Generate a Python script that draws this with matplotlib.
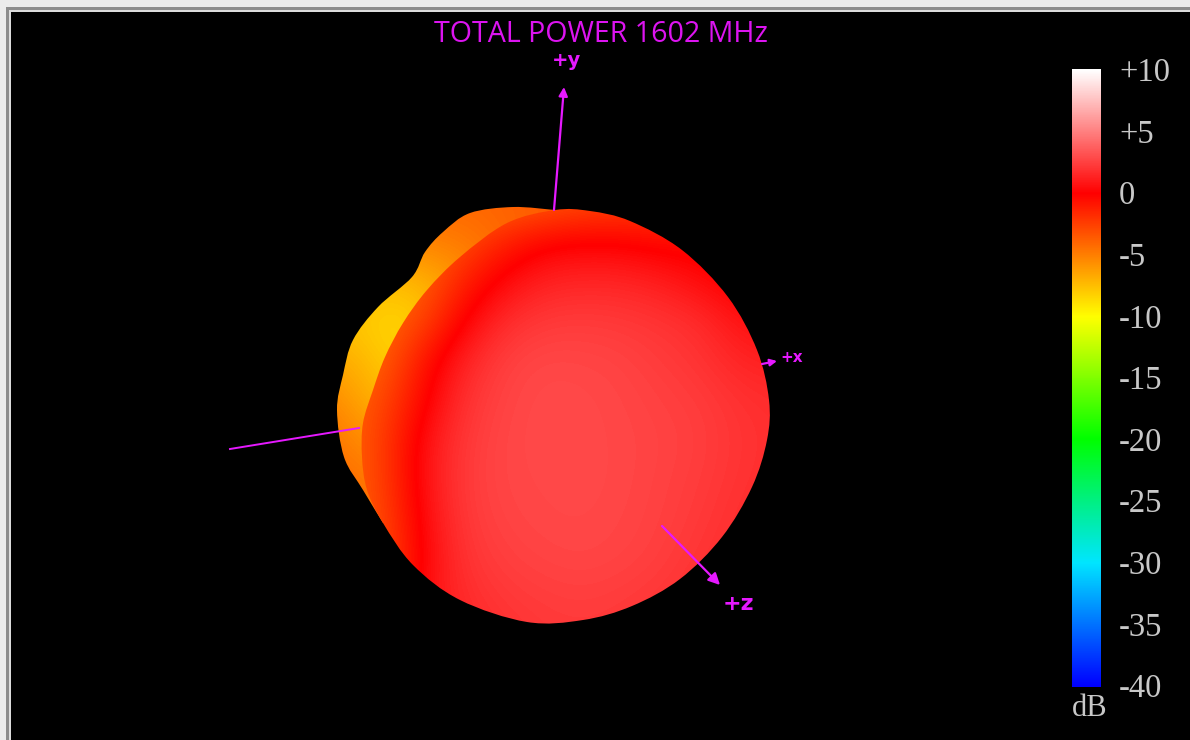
import numpy as np
import matplotlib
matplotlib.use("Agg")
import matplotlib.pyplot as plt
from matplotlib.colors import LinearSegmentedColormap, Normalize
from matplotlib.patches import PathPatch, Rectangle
from matplotlib.path import Path

title = "TOTAL POWER 1602 MHz"
db_min, db_max = -40, 10
tick_labels = ["+10", "+5", "0", "-5", "-10", "-15", "-20", "-25", "-30", "-35", "-40"]
tick_values = [10, 5, 0, -5, -10, -15, -20, -25, -30, -35, -40]

# colour scale
scale_db = [-40, -30, -25, -20, -10, 0, 10]
scale_colors = ["#0000ff", "#00e6ff", "#00f082", "#00ff00", "#ffff00", "#ff0000", "#ffffff"]

# silhouettes in screen pixels
back_x = [555, 513, 470, 443, 425, 412, 378, 353, 343, 337, 344, 363, 383]
back_y = [210, 207, 213, 232, 252, 277, 307, 340, 375, 410, 457, 490, 523]
front_x = [555, 507, 460, 427, 403, 385, 373, 363, 362, 367, 383, 413, 460, 527,
           583, 632, 680, 722, 752, 767, 769, 757, 728, 682, 630, 590]
front_y = [210, 223, 257, 290, 323, 357, 390, 423, 457, 490, 523, 565, 600, 622,
           620, 606, 579, 537, 487, 440, 400, 350, 297, 250, 221, 211]

# power in dB sampled on the front lobe
front_cols = [340, 380, 420, 460, 500, 540, 580, 620, 660, 700, 740, 780]
front_rows = [200, 240, 280, 320, 360, 400, 440, 480, 520, 560, 600, 640]
front_db = [
    [-4.0, -4.0, -4.0, -4.0, -4.0, -3.8, -3.2, -2.8, -2.4, -2.0, -1.5, -1.5],
    [-4.0, -4.0, -4.0, -3.0, -1.5, -0.3, 0.0, -0.1, -0.5, -0.5, -1.0, -1.5],
    [-4.0, -4.0, -3.8, -1.5, 0.2, 1.2, 1.4, 1.4, 1.1, 0.4, -0.3, -0.5],
    [-4.0, -4.0, -3.0, -0.2, 1.6, 2.2, 2.3, 2.2, 2.0, 1.7, 0.7, 0.3],
    [-4.0, -4.0, -1.0, 1.2, 2.4, 2.75, 2.7, 2.6, 2.3, 2.0, 1.4, 1.2],
    [-4.0, -3.0, -0.5, 1.8, 2.6, 2.85, 2.85, 2.7, 2.5, 2.3, 1.9, 1.7],
    [-4.0, -2.6, 0.4, 2.1, 2.7, 2.85, 2.85, 2.75, 2.6, 2.4, 2.0, 1.8],
    [-4.0, -2.7, 0.5, 2.2, 2.7, 2.8, 2.85, 2.75, 2.55, 2.3, 1.95, 1.7],
    [-4.0, -3.0, 0.2, 2.1, 2.6, 2.75, 2.8, 2.7, 2.5, 2.2, 1.8, 1.6],
    [-4.0, -3.2, 0.0, 1.9, 2.4, 2.6, 2.7, 2.6, 2.4, 2.0, 1.7, 1.5],
    [-4.0, -3.0, 0.5, 1.6, 2.1, 2.3, 2.4, 2.3, 2.1, 1.8, 1.6, 1.4],
    [-4.0, -3.0, 0.5, 1.3, 1.8, 2.1, 2.2, 2.1, 1.9, 1.6, 1.4, 1.2],
]

# power in dB sampled on the back lobe
back_cols = [320, 360, 400, 440, 480, 520, 560, 600]
back_rows = [200, 240, 280, 320, 360, 400, 440, 480, 520]
back_db = [
    [-4.0, -4.0, -4.0, -4.0, -4.0, -3.8, -3.5, -3.5],
    [-5.0, -5.0, -5.0, -5.0, -4.5, -3.8, -3.5, -3.5],
    [-7.0, -7.0, -7.5, -6.5, -5.0, -4.0, -3.5, -3.5],
    [-7.5, -8.0, -8.5, -7.0, -5.0, -4.0, -3.5, -3.5],
    [-6.5, -7.0, -8.5, -7.0, -5.0, -4.0, -3.5, -3.5],
    [-5.0, -6.5, -7.5, -7.0, -5.0, -4.0, -3.5, -3.5],
    [-4.2, -5.5, -6.0, -6.0, -5.0, -4.0, -3.5, -3.5],
    [-4.0, -4.5, -5.0, -5.0, -5.0, -4.0, -3.5, -3.5],
    [-4.0, -4.2, -4.5, -4.5, -4.5, -4.0, -3.5, -3.5],
]

MAGENTA = "#e619ff"


def smooth_path(xs, ys, closed):
    # catmull-rom through the read points, so the rim does not look faceted
    pts = np.column_stack([xs, ys]).astype(float)
    n = len(pts)
    verts = [pts[0]]
    codes = [Path.MOVETO]
    last = n if closed else n - 1
    for i in range(last):
        if closed:
            p0, p1, p2, p3 = pts[(i - 1) % n], pts[i], pts[(i + 1) % n], pts[(i + 2) % n]
        else:
            p0, p1, p2, p3 = pts[max(i - 1, 0)], pts[i], pts[i + 1], pts[min(i + 2, n - 1)]
        verts += [p1 + (p2 - p0) / 6, p2 - (p3 - p1) / 6, p2]
        codes += [Path.CURVE4] * 3
    verts.append(pts[0])
    codes.append(Path.CLOSEPOLY)
    return Path(verts, codes)


def draw_lobe(ax, cmap, norm, cols, rows, values, outline, zorder):
    dx = cols[1] - cols[0]
    dy = rows[1] - rows[0]
    extent = (cols[0] - dx / 2, cols[-1] + dx / 2, rows[-1] + dy / 2, rows[0] - dy / 2)
    im = ax.imshow(values, cmap=cmap, norm=norm, extent=extent, origin="upper", aspect="auto",
                   interpolation="bicubic", interpolation_stage="data", zorder=zorder)
    im.set_clip_path(PathPatch(outline, transform=ax.transData))


def draw_axis_arrow(ax, start, end, head=13):
    ax.annotate("", xy=end, xytext=start, zorder=6,
                arrowprops=dict(arrowstyle="-|>", color=MAGENTA, lw=1.6, mutation_scale=head,
                                shrinkA=0, shrinkB=0))


fig = plt.figure(figsize=(11.9, 7.4), dpi=100, facecolor="#ebebeb")
ax = fig.add_axes([0, 0, 1, 1])
ax.axis("off")

# window frame
for x0, y0, col in [(6, 7, "#8c8c8c"), (9, 10, "#dcdcdc"), (11, 12, "#000000")]:
    ax.add_patch(Rectangle((x0, y0), 1190 - x0, 740 - y0, color=col, lw=0, zorder=1))

cmap = LinearSegmentedColormap.from_list(
    "power", [((d - db_min) / (db_max - db_min), c) for d, c in zip(scale_db, scale_colors)], N=512)
norm = Normalize(db_min, db_max)

draw_lobe(ax, cmap, norm, back_cols, back_rows, back_db, smooth_path(back_x, back_y, False), 3)
draw_lobe(ax, cmap, norm, front_cols, front_rows, front_db, smooth_path(front_x, front_y, True), 4)

ax.plot([230, 359], [449, 428], color=MAGENTA, lw=1.4, zorder=5)
draw_axis_arrow(ax, (554, 210), (564, 87))
draw_axis_arrow(ax, (762, 364), (777, 361), head=10)
draw_axis_arrow(ax, (662, 526), (720, 585), head=17)

ax.text(566, 60, "+y", color=MAGENTA, fontsize=14, fontweight="bold", ha="center", va="center", zorder=7)
ax.text(792, 358, "+x", color=MAGENTA, fontsize=11, fontweight="bold", ha="center", va="center", zorder=7)
ax.text(738, 604, "+z", color=MAGENTA, fontsize=16, fontweight="bold", ha="center", va="center", zorder=7)

ax.text(601, 34, title, color="#dc14f0", fontsize=20.6, family="Open Sans",
        ha="center", va="center", zorder=7)

# colour bar
bar = np.linspace(db_max, db_min, 256).reshape(-1, 1)
ax.imshow(bar, cmap=cmap, norm=norm, extent=(1072, 1101, 687, 69), origin="upper", aspect="auto", zorder=3)
bar_top, bar_bottom = 73, 689
for label, value in zip(tick_labels, tick_values):
    y = bar_bottom - (value - db_min) / (db_max - db_min) * (bar_bottom - bar_top)
    ax.text(1119, y, label, color="#c8c8c8", fontsize=23.5, family="Liberation Serif",
            ha="left", va="center", zorder=7)
ax.text(1090, 708, "dB", color="#c8c8c8", fontsize=22, family="Liberation Serif",
        ha="center", va="center", zorder=7)

ax.set_xlim(0, 1190)
ax.set_ylim(740, 0)
fig.savefig("out.png", dpi=100, facecolor=fig.get_facecolor())
